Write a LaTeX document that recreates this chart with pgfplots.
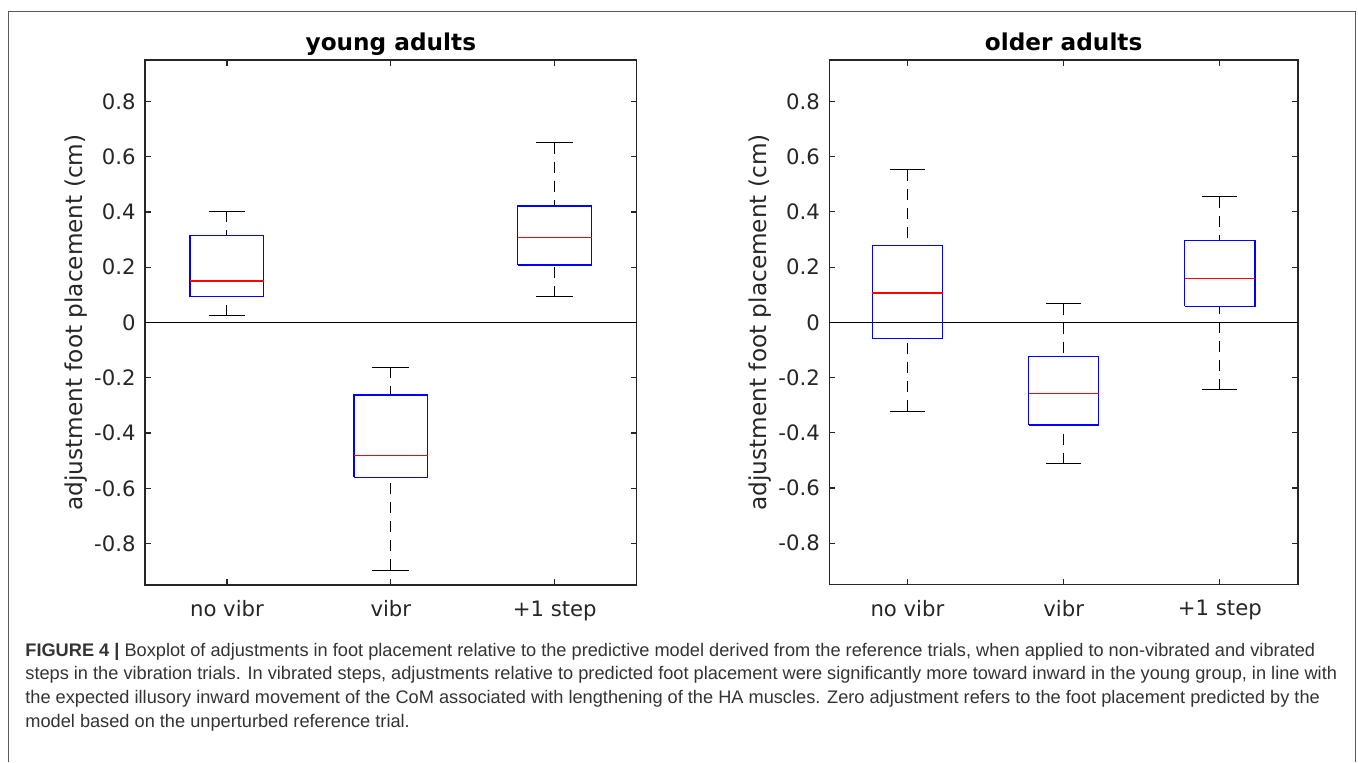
\documentclass[border=0pt]{standalone}
\usepackage{fontspec}
\setmainfont{DejaVu Sans}
\newfontfamily\capfont{Liberation Sans}
\usepackage{pgfplots}
\pgfplotsset{compat=1.18}
\definecolor{axgray}{rgb}{0.15,0.15,0.15}
\definecolor{capgray}{rgb}{0.2,0.2,0.2}

\pgfplotsset{
  bxstyle/.style={
    scale only axis,
    xmin=0.5, xmax=3.5, ymin=-0.95, ymax=0.95,
    xtick={1,2,3}, xticklabels={no vibr, vibr, +1 step},
    ytick={-0.8,-0.6,-0.4,-0.2,0,0.2,0.4,0.6,0.8},
    yticklabels={-0.8,-0.6,-0.4,-0.2,0,0.2,0.4,0.6,0.8},
    tick align=inside, major tick length=3pt,
    axis line style={draw=axgray, line width=0.55pt},
    tick style={draw=axgray, line width=0.55pt},
    ticklabel style={font=\fontsize{10.6}{12}\selectfont, text=axgray},
    yticklabel style={xshift=-1.2pt},
    xticklabel style={yshift=-4.3pt},
    ylabel={adjustment foot placement (cm)},
    every axis y label/.style={at={(axis description cs:0,0.5)}, rotate=90, anchor=center, yshift=34.5pt, font=\fontsize{11.6}{13}\selectfont, text=axgray},
    every axis title/.style={at={(axis description cs:0.5,1)}, anchor=base, yshift=5pt, font=\bfseries\fontsize{11.6}{13}\selectfont, text=black},
    clip=false,
  },
  whisk/.style={black, line width=0.5pt, dash pattern=on 5.5pt off 4pt, forget plot},
  capl/.style={black, line width=0.5pt, forget plot},
  boxl/.style={blue, line width=0.6pt, forget plot},
  medl/.style={red, line width=0.6pt, forget plot},
}

% x, lower whisker, q1, median, q3, upper whisker
\newcommand\bp[6]{%
  \pgfmathsetmacro\BXa{#1-0.225}\pgfmathsetmacro\BXb{#1+0.225}%
  \pgfmathsetmacro\BXc{#1-0.1125}\pgfmathsetmacro\BXd{#1+0.1125}%
  \addplot[whisk] coordinates {(#1,#6) (#1,#5)};
  \addplot[whisk] coordinates {(#1,#2) (#1,#3)};
  \addplot[capl] coordinates {(\BXc,#6) (\BXd,#6)};
  \addplot[capl] coordinates {(\BXc,#2) (\BXd,#2)};
  \addplot[boxl] coordinates {(\BXa,#3) (\BXb,#3) (\BXb,#5) (\BXa,#5) (\BXa,#3)};
  \addplot[medl] coordinates {(\BXa,#4) (\BXb,#4)};
}

\begin{document}
\begin{tikzpicture}
\useasboundingbox (0,0) rectangle (679pt,-381pt);
\draw[black!65, line width=0.5pt] (4.15pt,-381pt) -- (4.15pt,-5.5pt) -- (677.6pt,-5.5pt) -- (677.6pt,-381pt);

\begin{axis}[bxstyle, at={(72.5pt,-292.5pt)}, anchor=south west,
  width=245.85pt, height=262.5pt, title={young adults}]
  \addplot[black, line width=0.5pt, forget plot] coordinates {(0.5,0) (3.5,0)};
  \bp{1}{0.025}{0.093}{0.150}{0.314}{0.402}
  \bp{2}{-0.897}{-0.560}{-0.481}{-0.262}{-0.161}
  \bp{3}{0.094}{0.208}{0.307}{0.422}{0.651}
\end{axis}

\begin{axis}[bxstyle, at={(414.65pt,-292.3pt)}, anchor=south west,
  width=234.35pt, height=262.3pt, title={older adults}]
  \addplot[black, line width=0.5pt, forget plot] coordinates {(0.5,0) (3.5,0)};
  \bp{1}{-0.322}{-0.060}{0.106}{0.278}{0.552}
  \bp{2}{-0.512}{-0.372}{-0.257}{-0.125}{0.067}
  \bp{3}{-0.244}{0.058}{0.160}{0.297}{0.454}
\end{axis}

\begin{scope}[every node/.style={anchor=base west, inner sep=0pt, text=capgray, font=\capfont\fontsize{9.1}{10}\selectfont}]
\node at (12.5pt,-328pt) {\textbf{FIGURE 4 |} Boxplot of adjustments in foot placement relative to the predictive model derived from the reference trials, when applied to non-vibrated and vibrated};
\node at (12.5pt,-339.9pt) {steps in the vibration trials. In vibrated steps, adjustments relative to predicted foot placement were significantly more toward inward in the young group, in line with};
\node at (12.5pt,-351.8pt) {the expected illusory inward movement of the CoM associated with lengthening of the HA muscles. Zero adjustment refers to the foot placement predicted by the};
\node at (12.5pt,-363.7pt) {model based on the unperturbed reference trial.};
\end{scope}
\end{tikzpicture}
\end{document}
